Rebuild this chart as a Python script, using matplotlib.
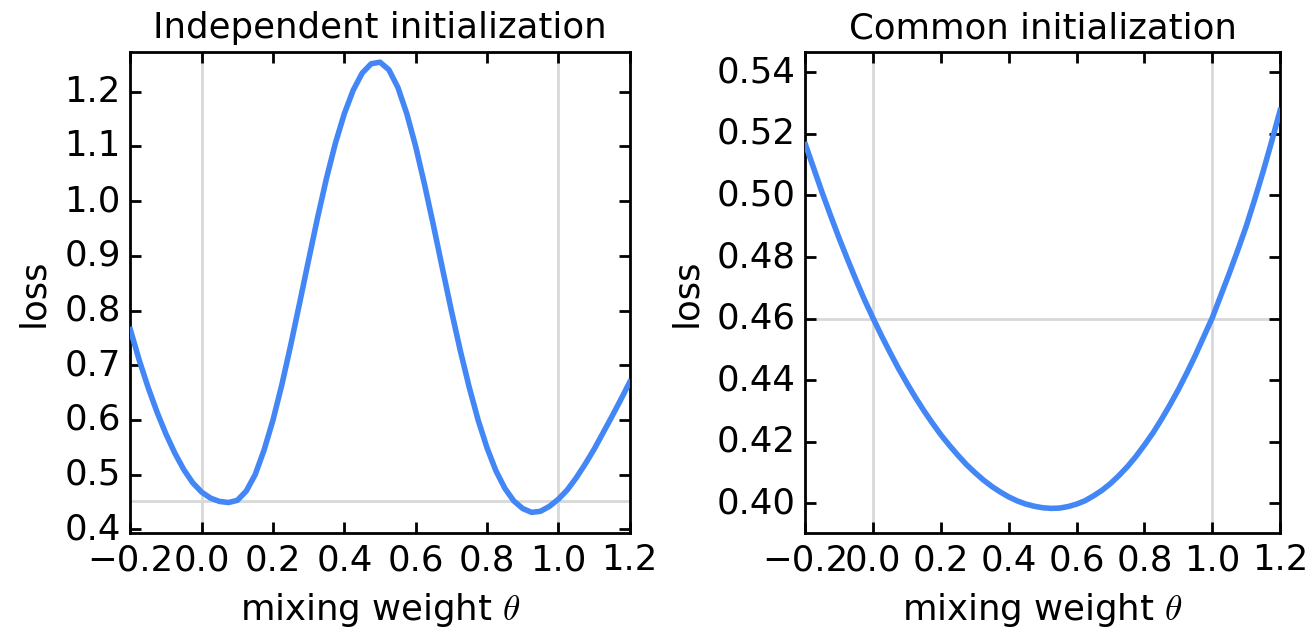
import matplotlib
matplotlib.use("Agg")
import matplotlib.pyplot as plt

plt.style.use("classic")
plt.rcParams['font.family'] = ['DejaVu Sans']
plt.rcParams['font.size'] = 12.8

theta = [-0.200, -0.175, -0.150, -0.125, -0.100, -0.075, -0.050, -0.025,
         0.000, 0.025, 0.050, 0.075, 0.100, 0.125, 0.150, 0.175,
         0.200, 0.225, 0.250, 0.275, 0.300, 0.325, 0.350, 0.375,
         0.400, 0.425, 0.450, 0.475, 0.500, 0.525, 0.550, 0.575,
         0.600, 0.625, 0.650, 0.675, 0.700, 0.725, 0.750, 0.775,
         0.800, 0.825, 0.850, 0.875, 0.900, 0.925, 0.950, 0.975,
         1.000, 1.025, 1.050, 1.075, 1.100, 1.125, 1.150, 1.175, 1.200]

loss_independent = [0.765, 0.709, 0.659, 0.614, 0.574, 0.539, 0.509, 0.485,
                    0.468, 0.457, 0.451, 0.449, 0.453, 0.470, 0.500, 0.545,
                    0.600, 0.665, 0.738, 0.815, 0.893, 0.970, 1.042, 1.106,
                    1.160, 1.203, 1.234, 1.251, 1.254, 1.240, 1.208, 1.160,
                    1.100, 1.030, 0.955, 0.877, 0.800, 0.727, 0.660, 0.600,
                    0.549, 0.507, 0.475, 0.452, 0.438, 0.431, 0.433, 0.442,
                    0.455, 0.472, 0.494, 0.519, 0.546, 0.576, 0.606, 0.637, 0.669]

loss_common = [0.5165, 0.5086, 0.5007, 0.4932, 0.4859, 0.4790, 0.4723, 0.4659,
               0.4600, 0.4543, 0.4489, 0.4437, 0.4389, 0.4343, 0.4300, 0.4260,
               0.4222, 0.4188, 0.4156, 0.4126, 0.4100, 0.4076, 0.4055, 0.4037,
               0.4021, 0.4008, 0.3998, 0.3991, 0.3986, 0.3984, 0.3985, 0.3990,
               0.3998, 0.4009, 0.4025, 0.4043, 0.4065, 0.4091, 0.4120, 0.4153,
               0.4190, 0.4229, 0.4273, 0.4320, 0.4370, 0.4424, 0.4481, 0.4542,
               0.4603, 0.4675, 0.4747, 0.4822, 0.4900, 0.4987, 0.5078, 0.5175, 0.5276]

ref_independent = 0.452
ref_common = 0.46

titles = ["Independent initialization", "Common initialization"]
xticks = [-0.2, 0.0, 0.2, 0.4, 0.6, 0.8, 1.0, 1.2]
yticks_independent = [0.4, 0.5, 0.6, 0.7, 0.8, 0.9, 1.0, 1.1, 1.2]
yticks_common = [0.40, 0.42, 0.44, 0.46, 0.48, 0.50, 0.52, 0.54]

line_color = "#4287f5"
guide_color = "#d8d8d8"

fig = plt.figure(figsize=(6.57, 3.155), dpi=200, facecolor="white")
ax1 = fig.add_axes([0.0992, 0.1548, 0.3800, 0.7628])
ax2 = fig.add_axes([0.6130, 0.1548, 0.3612, 0.7628])

panels = [
    (ax1, loss_independent, ref_independent, yticks_independent, (0.3927, 1.2726), "%.1f"),
    (ax2, loss_common, ref_common, yticks_common, (0.3903, 0.5466), "%.2f"),
]

for ax, loss, ref, yt, ylim, fmt in panels:
    ax.axvline(0.0, color=guide_color, lw=1.0, zorder=1)
    ax.axvline(1.0, color=guide_color, lw=1.0, zorder=1)
    ax.axhline(ref, color=guide_color, lw=1.0, zorder=1)
    ax.plot(theta, loss, color=line_color, lw=2.0, zorder=3,
            solid_joinstyle="round")
    ax.set_xlim(-0.2, 1.2)
    ax.set_ylim(*ylim)
    ax.set_xticks(xticks)
    ax.set_yticks(yt)
    ax.set_yticklabels([fmt % v for v in yt])
    ax.set_xticklabels(["\u22120.2" if v < 0 else "%.1f" % v for v in xticks])
    ax.tick_params(direction="in", length=4, width=1, top=True, right=True,
                   labelsize=12.8, pad=3.5)
    ax.set_xlabel(r"mixing weight $\theta$", fontsize=12.8)
    ax.set_ylabel("loss", fontsize=12.8)
    for s in ax.spines.values():
        s.set_linewidth(1.0)

ax1.set_title(titles[0], fontsize=12.8)
ax2.set_title(titles[1], fontsize=12.8)

fig.savefig("out.png", dpi=200, facecolor="white")
